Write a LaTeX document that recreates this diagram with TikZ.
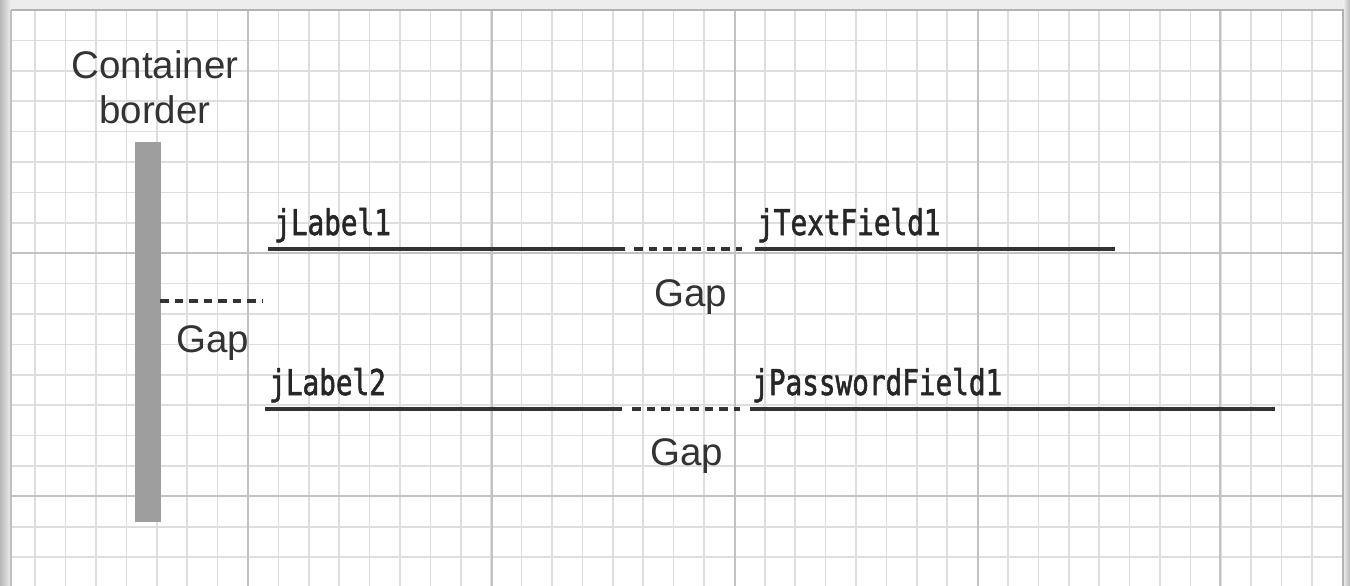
\documentclass[tikz,border=0pt]{standalone}
\usepackage{fontspec}
\setmainfont{Liberation Sans}
\newfontfamily\codefont[FakeStretch=0.78,FakeBold=1.5]{DejaVu Sans Mono}
\begin{document}
\begin{tikzpicture}[x=1pt,y=-1pt,
  minorgrid/.style={draw=black!13,line width=1.6pt},
  majorgrid/.style={draw=black!24,line width=2pt},
  fieldline/.style={draw=black!80,line width=3.6pt},
  gapline/.style={draw=black!80,line width=3.6pt,dash pattern=on 8.5pt off 6pt},
  sanslabel/.style={inner sep=0pt,font=\fontsize{38.5}{44}\selectfont,text=black!80},
  codelabel/.style={inner sep=0pt,anchor=base west,font=\codefont\fontsize{35.5}{40}\selectfont,text=black!85},
  borderbar/.style={fill=black!38,draw=none,minimum width=26pt,minimum height=380pt,inner sep=0pt}]
\useasboundingbox (0,0) rectangle (1350,586);
% outer shadow area
\fill[black!7] (0,0) rectangle (1350,586);
\fill[left color=black!28,right color=black!6] (0,0) rectangle (11,586);
\fill[left color=black!6,right color=black!28] (1343,0) rectangle (1350,586);
\fill[white] (11,10) rectangle (1343,586);
% grid
\begin{scope}
\clip (11,10) rectangle (1343,586);
\foreach \i in {0,...,44} {
  \pgfmathsetmacro\xx{4.8+30.4*\i}
  \draw[minorgrid] (\xx,0) -- (\xx,586);
}
\foreach \i in {0,...,19} {
  \pgfmathsetmacro\yy{10+30.4*\i}
  \draw[minorgrid] (0,\yy) -- (1350,\yy);
}
\foreach \xx in {248,492,735,978,1220} {
  \draw[majorgrid] (\xx,0) -- (\xx,586);
}
\foreach \yy in {253,496} {
  \draw[majorgrid] (0,\yy) -- (1350,\yy);
}
\end{scope}
\draw[black!30,line width=1.2pt] (11,10) -- (1343,10) -- (1343,586);
\draw[black!25,line width=1.2pt] (11,10) -- (11,586);
% container border bar
\node[borderbar] (bar) at (148,332) {};
\node[sanslabel,anchor=base] (cont) at (155,78) {Container};
\node[sanslabel,anchor=base] (bord) at (155,123) {border};
% field lines
\coordinate (l1a) at (268,249);
\coordinate (l1b) at (625,249);
\coordinate (g1a) at (634,249);
\coordinate (g1b) at (742,249);
\coordinate (t1a) at (755,249);
\coordinate (t1b) at (1115,249);
\coordinate (l2a) at (265,409);
\coordinate (l2b) at (622,409);
\coordinate (g2a) at (632,409);
\coordinate (g2b) at (740,409);
\coordinate (t2a) at (750,409);
\coordinate (t2b) at (1275,409);
\coordinate (g0a) at (160,301);
\coordinate (g0b) at (262,301);
\draw[fieldline] (l1a) -- (l1b);
\draw[gapline] (g1a) -- (g1b);
\draw[fieldline] (t1a) -- (t1b);
\draw[fieldline] (l2a) -- (l2b);
\draw[gapline] (g2a) -- (g2b);
\draw[fieldline] (t2a) -- (t2b);
\draw[gapline] (g0a) -- (g0b);
% code labels
\node[codelabel] (jl1) at (274,235) {jLabel1};
\node[codelabel] (jtf) at (757,235) {jTextField1};
\node[codelabel] (jl2) at (269,395) {jLabel2};
\node[codelabel] (jpf) at (752,395) {jPasswordField1};
% gap labels
\node[sanslabel,anchor=base] (gap0) at (213,352) {Gap};
\node[sanslabel,anchor=base] (gap1) at (691,306) {Gap};
\node[sanslabel,anchor=base] (gap2) at (687,465) {Gap};
\end{tikzpicture}
\end{document}
